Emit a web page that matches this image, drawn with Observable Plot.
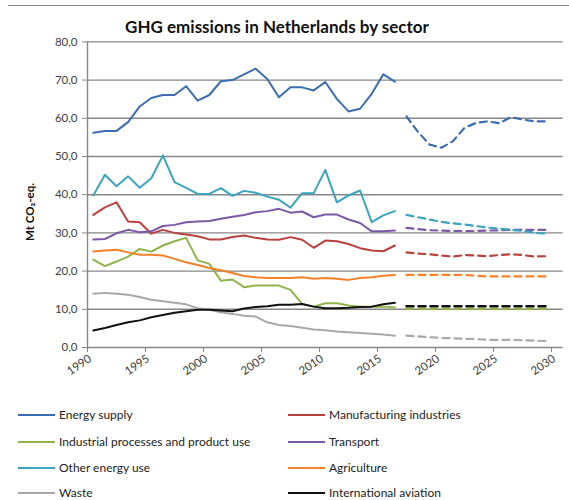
<!DOCTYPE html>
<html><head><meta charset="utf-8">
<script src="https://cdn.jsdelivr.net/npm/d3@7"></script>
<script src="https://cdn.jsdelivr.net/npm/@observablehq/plot@0.6"></script>
<style>
body{margin:0;background:#fff;}
#wrap{position:relative;width:569px;height:500px;overflow:hidden;font-family:Lato,"Open Sans",sans-serif;background:#fff;}
#topline{position:absolute;top:5px;left:8px;right:0;border-top:1.5px solid #8a8a8a;}
#title{position:absolute;top:17px;left:0;width:554px;text-align:center;font-size:17px;font-weight:bold;color:#111;line-height:20px;}
#plot{position:absolute;top:0;left:0;}
.leg{position:absolute;font-size:12px;color:#222;line-height:16px;white-space:nowrap;}
.sw{position:absolute;top:7px;width:37px;height:0;border-top:2px solid;}
.lt{position:absolute;left:41px;top:0;}
</style></head><body>
<div id="wrap"><div id="topline"></div><div id="title">GHG emissions in Netherlands by sector</div><div id="plot"></div></div>
<script>
const histYears = [1990,1991,1992,1993,1994,1995,1996,1997,1998,1999,2000,2001,2002,2003,2004,2005,2006,2007,2008,2009,2010,2011,2012,2013,2014,2015,2016];
const projYears = [2017,2018,2019,2020,2021,2022,2023,2024,2025,2026,2027,2028,2029];
const xTickLabels = [1990,1995,2000,2005,2010,2015,2020,2025,2030];
const yTicks = [0,10,20,30,40,50,60,70,80];

const seriesNames = ["Energy supply","Manufacturing industries","Industrial processes and product use","Transport","Other energy use","Agriculture","Waste","International aviation"];
const seriesColors = ["#3c6db3","#b9413d","#8fb548","#7b59a5","#3ba4bf","#f5822a","#a8a8a8","#111111"];

const energySupply = [56.2,56.7,56.7,59.0,63.1,65.3,66.1,66.1,68.4,64.6,66.1,69.7,70.0,71.5,73.0,70.3,65.5,68.1,68.1,67.3,69.5,65.1,61.8,62.5,66.4,71.5,69.6];
const energySupplyProj = [60.5,56.4,53.1,52.3,54.0,57.5,58.8,59.2,58.7,60.3,59.7,59.2,59.2];
const manufacturing = [34.7,36.7,38.0,33.0,32.8,29.8,30.8,30.0,29.6,29.1,28.3,28.3,28.9,29.3,28.7,28.3,28.2,28.9,28.2,26.1,28.0,27.8,27.1,26.0,25.4,25.2,26.7];
const manufacturingProj = [24.9,24.6,24.4,24.1,23.8,24.2,24.1,23.9,24.2,24.4,24.2,23.8,23.9];
const industrial = [23.0,21.3,22.5,23.8,25.8,25.1,26.7,27.8,28.7,22.8,21.9,17.5,17.8,15.8,16.2,16.2,16.2,15.1,11.4,10.7,11.6,11.6,11.0,10.7,10.7,10.7,10.5];
const industrialProj = [10.1,10.1,10.1,10.1,10.1,10.1,10.1,10.1,10.1,10.1,10.1,10.1,10.1];
const transport = [28.3,28.4,29.9,30.8,30.2,30.4,31.8,32.1,32.8,33.0,33.1,33.7,34.2,34.7,35.4,35.7,36.3,35.3,35.6,34.1,34.8,34.8,33.5,32.6,30.4,30.4,30.6];
const transportProj = [31.3,31.0,30.7,30.6,30.5,30.5,30.5,30.6,30.7,30.8,30.8,30.8,30.8];
const otherEnergy = [39.8,45.2,42.2,44.8,41.8,44.3,50.3,43.3,41.8,40.2,40.2,41.7,39.7,41.0,40.5,39.5,38.7,36.6,40.4,40.4,46.5,38.0,39.8,41.1,32.8,34.6,35.7];
const otherEnergyProj = [34.7,34.1,33.5,32.9,32.5,32.2,31.8,31.4,31.1,30.8,30.5,30.1,29.8];
const agriculture = [25.1,25.4,25.6,24.9,24.3,24.3,24.1,23.2,22.3,21.6,20.8,20.2,19.5,18.7,18.4,18.2,18.2,18.2,18.4,18.0,18.2,18.0,17.7,18.2,18.4,18.8,19.0];
const agricultureProj = [19.0,19.0,19.0,19.0,19.0,19.0,18.8,18.6,18.6,18.6,18.6,18.6,18.6];
const waste = [14.1,14.3,14.1,13.8,13.2,12.5,12.1,11.7,11.3,10.3,9.9,9.2,8.8,8.3,8.1,6.6,5.9,5.6,5.2,4.7,4.5,4.2,4.0,3.8,3.6,3.4,3.1];
const wasteProj = [3.1,2.9,2.7,2.5,2.4,2.3,2.2,2.0,2.0,2.0,1.9,1.8,1.7];
const aviation = [4.45,5.1,5.9,6.6,7.1,7.9,8.5,9.1,9.5,9.9,9.9,9.7,9.5,10.2,10.6,10.8,11.2,11.2,11.4,10.7,10.3,10.3,10.4,10.6,10.7,11.3,11.7];
const aviationProj = [10.8,10.8,10.8,10.8,10.8,10.8,10.8,10.8,10.8,10.8,10.8,10.8,10.8];

const hist = [energySupply,manufacturing,industrial,transport,otherEnergy,agriculture,waste,aviation];
const proj = [energySupplyProj,manufacturingProj,industrialProj,transportProj,otherEnergyProj,agricultureProj,wasteProj,aviationProj];

const grid = "#878787";
const xBounds = xTickLabels.map(d => d - 0.5);
const xStart = histYears[0] - 0.5;
const xEnd = xTickLabels[xTickLabels.length - 1] + 0.5;

const lineMarks = [];
seriesNames.forEach((name, i) => {
  const h = histYears.map((yr, j) => ({year: yr, value: hist[i][j]}));
  const p = projYears.map((yr, j) => ({year: yr, value: proj[i][j]}));
  lineMarks.push(Plot.line(h, {x: "year", y: "value", stroke: seriesColors[i], strokeWidth: 2}));
  lineMarks.push(Plot.line(p, {x: "year", y: "value", stroke: seriesColors[i], strokeWidth: i === 7 ? 2.6 : 2.2, strokeDasharray: "7,5"}));
});

const chart = Plot.plot({
  width: 569,
  height: 400,
  marginLeft: 87,
  marginRight: 6.4,
  marginTop: 41.4,
  marginBottom: 53,
  style: {fontFamily: "Lato, 'Open Sans', sans-serif", background: "transparent"},
  x: {domain: [xStart, xEnd]},
  y: {domain: [0, 80]},
  marks: [
    Plot.ruleY(yTicks, {stroke: grid, strokeWidth: 1.4}),
    Plot.ruleX([xStart], {stroke: grid, strokeWidth: 1.4}),
    Plot.axisY({ticks: yTicks, tickSize: 5, tickPadding: 5, stroke: grid, fill: "#404040", fontSize: 11.5, label: null,
      tickFormat: d => d.toFixed(1).replace(".", ",")}),
    Plot.axisX({ticks: xBounds, tickSize: 5, tickFormat: () => "", stroke: grid, label: null}),
    Plot.text(xTickLabels, {x: d => d, frameAnchor: "bottom", dx: -1, dy: 13, rotate: -34, textAnchor: "end",
      fill: "#404040", fontSize: 11.5, text: d => String(d), clip: false}),
    ...lineMarks
  ]
});

d3.select(chart).append("text")
  .attr("transform", "translate(34,212) rotate(-90)")
  .attr("text-anchor", "middle")
  .attr("font-size", 11.5)
  .attr("font-weight", "bold")
  .attr("fill", "#111")
  .text("Mt CO\u2082-eq.");

document.getElementById("plot").appendChild(chart);

const wrap = document.getElementById("wrap");
const legLefts = [18, 288];
const legTops = [407, 434, 460, 485];
seriesNames.forEach((name, i) => {
  const d = document.createElement("div");
  d.className = "leg";
  d.style.left = legLefts[i % 2] + "px";
  d.style.top = legTops[Math.floor(i / 2)] + "px";
  const sw = document.createElement("span");
  sw.className = "sw";
  sw.style.borderTopColor = seriesColors[i];
  const t = document.createElement("span");
  t.className = "lt";
  t.textContent = name;
  d.appendChild(sw); d.appendChild(t);
  wrap.appendChild(d);
});
</script></body></html>
